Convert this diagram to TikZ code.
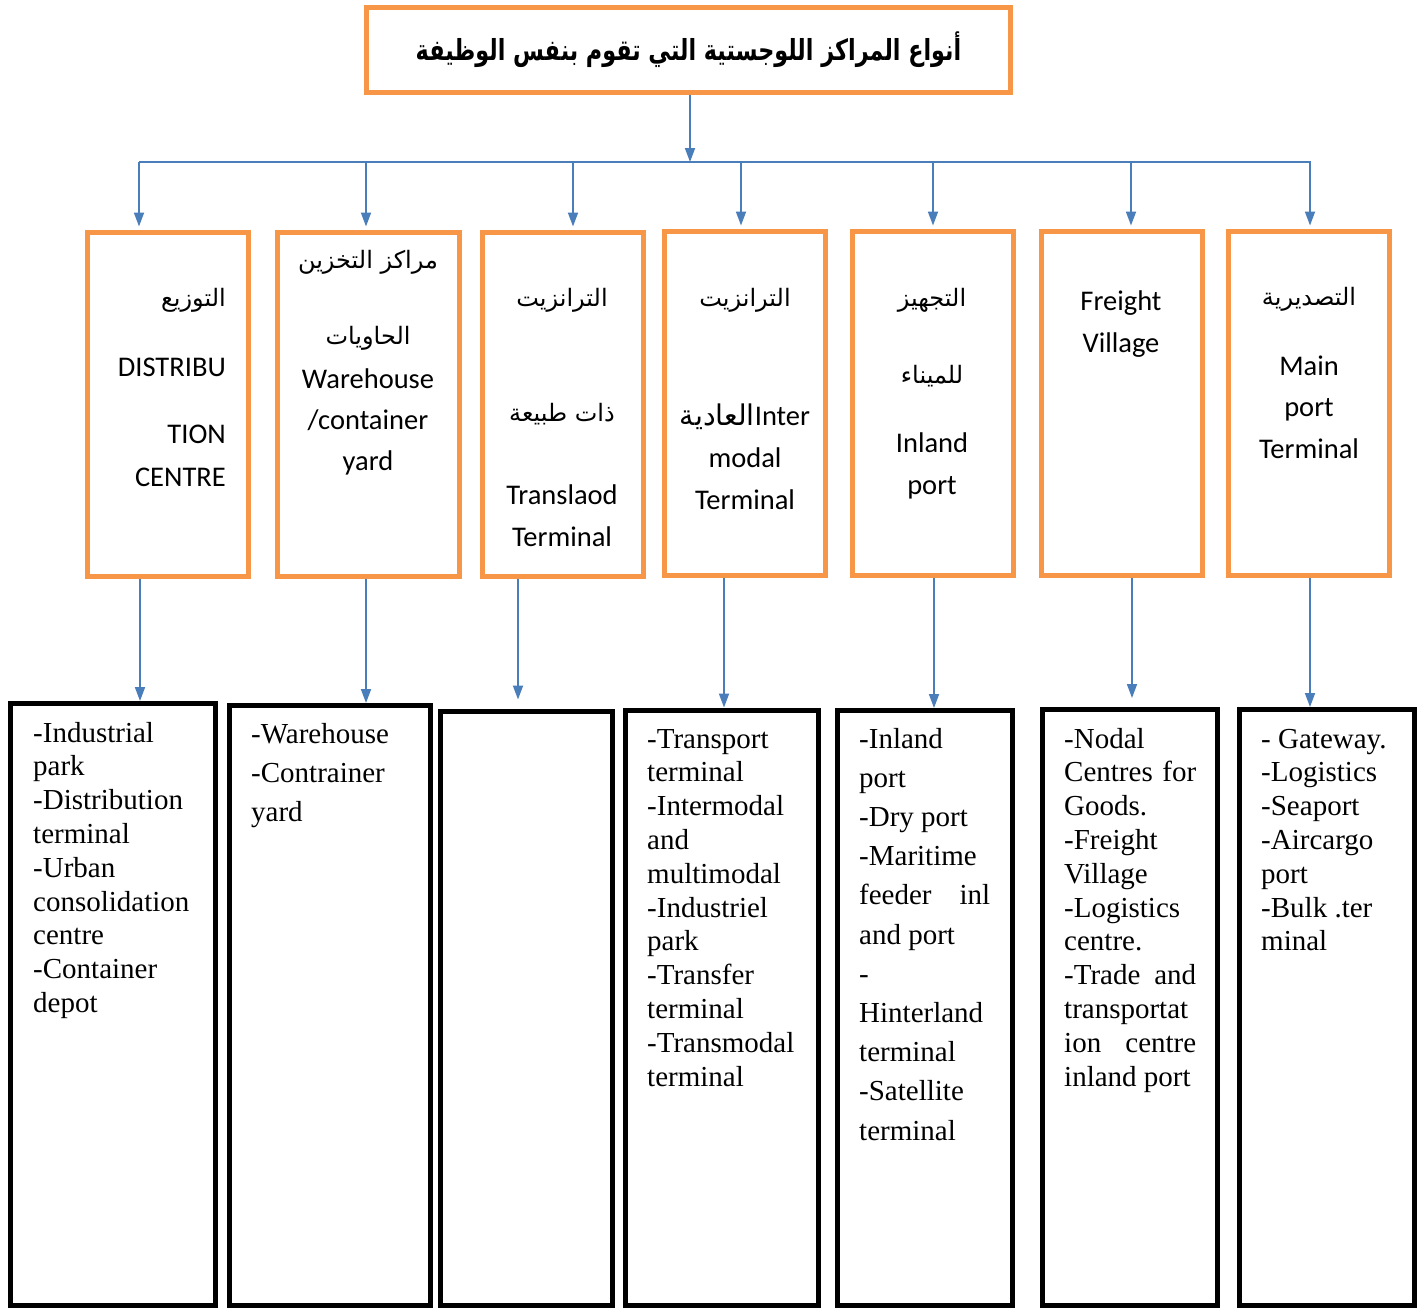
\documentclass[tikz,border=0pt]{standalone}
\usepackage{fontspec}
\usepackage{graphicx}
\setmainfont{Liberation Serif}
\setsansfont{Carlito}
\newfontfamily\arabicfont[Script=Arabic]{DejaVu Sans}
\TeXXeTstate=1
\usetikzlibrary{arrows.meta}

\definecolor{boxorange}{HTML}{F79646}
\definecolor{linkblue}{HTML}{4A7EBB}

\newcommand{\ar}[1]{{\arabicfont\beginR #1\endR}}

\begin{document}
\begin{tikzpicture}[x=1pt,y=-1pt,
  catbox/.style={draw=boxorange,line width=5pt,inner sep=0pt,minimum width=161pt,minimum height=344pt},
  listbox/.style={draw=black,line width=5pt,inner sep=0pt,anchor=north west},
  arr/.style={draw=linkblue,line width=1.8pt,-{Triangle[length=14pt,width=10pt]}},
  bus/.style={draw=linkblue,line width=2.5pt},
  cattext/.style={font=\sffamily\fontsize{28.5}{34}\selectfont,inner sep=0pt,anchor=base},
  cattextr/.style={cattext,anchor=base east},
  artext/.style={font=\arabicfont\fontsize{24}{30}\selectfont,inner sep=0pt,anchor=base},
  artextr/.style={artext,anchor=base east},
  listtext/.style={font=\rmfamily\fontsize{29}{33.8}\selectfont,inner sep=0pt,anchor=base west},
  listwide/.style={font=\rmfamily\fontsize{29}{39.2}\selectfont,inner sep=0pt,anchor=base west},
]
\useasboundingbox (0,0) rectangle (1418,1309);
\fill[white] (0,0) rectangle (1418,1309);

% heading
\node[draw=boxorange,line width=5pt,inner sep=0pt,minimum width=644pt,minimum height=85pt,
      font=\arabicfont\bfseries\fontsize{22.3}{28}\selectfont] (title) at (688.5,50)
  {\scalebox{1}[1.3]{\beginR أنواع المراكز اللوجستية التي تقوم بنفس الوظيفة\endR}};

% distribution bus
\coordinate (busL) at (139,162);
\coordinate (busR) at (1311,162);
\coordinate (busT) at (690,162);
\draw[bus] (busL) -- (busR);
\draw[arr] (title.south -| busT) -- (busT);

% category boxes
\node[catbox] (o1) at (167.5,404) {};
\node[catbox,minimum width=182pt] (o2) at (368,404) {};
\node[catbox] (o3) at (562.5,404) {};
\node[catbox] (o4) at (745,403) {};
\node[catbox] (o5) at (932.5,403) {};
\node[catbox] (o6) at (1122,403) {};
\node[catbox] (o7) at (1309,403) {};

% list boxes (placed by the outer corner of their frame)
\node[listbox,minimum width=205pt,minimum height=602pt] (b1) at (8,701) {};
\node[listbox,minimum width=201pt,minimum height=600pt] (b2) at (227,703) {};
\node[listbox,minimum width=172pt,minimum height=594.5pt] (b3) at (438,708.5) {};
\node[listbox,minimum width=192.5pt,minimum height=595.5pt] (b4) at (623,707.5) {};
\node[listbox,minimum width=175pt,minimum height=595pt] (b5) at (834.5,708) {};
\node[listbox,minimum width=175pt,minimum height=596pt] (b6) at (1040,707) {};
\node[listbox,minimum width=175pt,minimum height=596pt] (b7) at (1237,707) {};

% arrows from the bus to the categories
\foreach \i/\x in {1/139,2/366,3/573,4/741,5/933,6/1131,7/1310}{
  \coordinate (top\i) at (\x,162);
  \draw[arr,shorten >=3pt] (top\i) -- (top\i |- o\i.north);
}
% arrows from the categories to their lists
\foreach \i/\x/\s in {1/140/0,2/366/0,3/518/9,4/724/0,5/934/0,6/1132/9,7/1310/0}{
  \coordinate (low\i) at (\x,600);
  \draw[arr,shorten >=\s pt] (low\i |- o\i.south) -- (low\i |- b\i.north);
}

% category labels
\node[artextr] (o1a) at (226,306) {\ar{التوزيع}};
\node[cattextr] (o1b) at (226,376) {DISTRIBU};
\node[cattextr] (o1c) at (226,443) {TION};
\node[cattextr] (o1d) at (226,486) {CENTRE};

\node[artext] (o2a) at (368,268) {\ar{مراكز التخزين}};
\node[artext] (o2b) at (368,344) {\ar{الحاويات}};
\node[cattext] (o2c) at (368,388) {Warehouse};
\node[cattext] (o2d) at (368,429) {/container};
\node[cattext] (o2e) at (368,470) {yard};

\node[artext] (o3a) at (562,306) {\ar{الترانزيت}};
\node[artext] (o3b) at (562,421) {\ar{ذات طبيعة}};
\node[cattext] (o3c) at (562,504) {Translaod};
\node[cattext] (o3d) at (562,546) {Terminal};

\node[artext] (o4a) at (745,306) {\ar{الترانزيت}};
\node[cattext] (o4b) at (745,425) {\ar{العادية}Inter};
\node[cattext] (o4c) at (745,467) {modal};
\node[cattext] (o4d) at (745,509) {Terminal};

\node[artext] (o5a) at (932,306) {\ar{التجهيز}};
\node[artext] (o5b) at (932,383) {\ar{للميناء}};
\node[cattext] (o5c) at (932,452) {Inland};
\node[cattext] (o5d) at (932,494) {port};

\node[cattext] (o6a) at (1121,310) {Freight};
\node[cattext] (o6b) at (1121,352) {Village};

\node[artext] (o7a) at (1309,305) {\ar{التصديرية}};
\node[cattext] (o7b) at (1309,375) {Main};
\node[cattext] (o7c) at (1309,416) {port};
\node[cattext] (o7d) at (1309,458) {Terminal};

% list contents
\node[listtext] (l1) at (33,742) {\parbox[t]{180pt}{\raggedright
  -Industrial\\park\\-Distribution\\terminal\\-Urban\\consolidation\\centre\\-Container\\depot}};
\node[listwide] (l2) at (251,743) {\parbox[t]{175pt}{\raggedright
  -Warehouse\\-Contrainer\\yard}};
\node[listtext] (l4) at (647,748) {\parbox[t]{170pt}{\raggedright
  -Transport\\terminal\\-Intermodal\\and\\multimodal\\-Industriel\\park\\-Transfer\\terminal\\-Transmodal\\terminal}};
\node[listwide] (l5) at (859,748) {\parbox[t]{150pt}{\raggedright
  -Inland\\port\\-Dry port\\-Maritime\\\makebox[131pt][l]{feeder\hfill inl}\\and port\\-\\Hinterland\\terminal\\-Satellite\\terminal}};
\node[listtext] (l6) at (1064,748) {\parbox[t]{150pt}{\raggedright
  -Nodal\\\makebox[132pt][l]{Centres\hfill for}\\Goods.\\-Freight\\Village\\-Logistics\\centre.\\\makebox[132pt][l]{-Trade\hfill and}\\transportat\\\makebox[132pt][l]{ion\hfill centre}\\inland port}};
\node[listtext] (l7) at (1261,748) {\parbox[t]{150pt}{\raggedright
  - Gateway.\\-Logistics\\-Seaport\\-Aircargo\\port\\-Bulk .ter\\minal}};
\end{tikzpicture}
\end{document}
